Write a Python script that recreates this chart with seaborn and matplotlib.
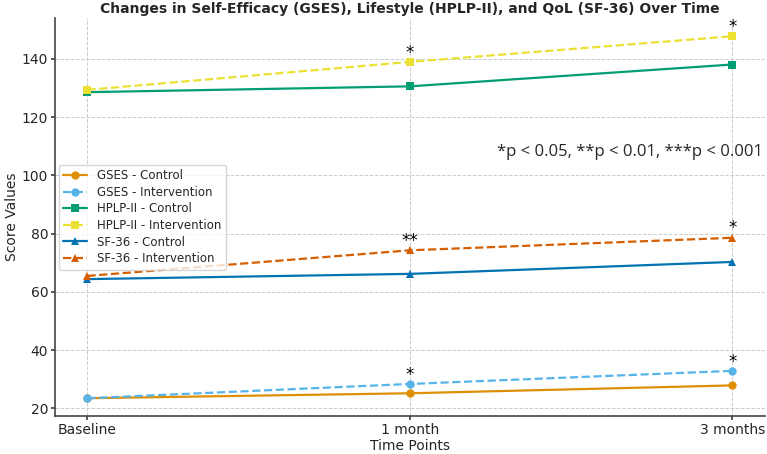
import matplotlib
matplotlib.use("Agg")
import matplotlib.pyplot as plt
import numpy as np
import pandas as pd
import seaborn as sns

# data
time_points = ["Baseline", "1 month", "3 months"]
gses_control = [23.5, 25.2, 27.9]
gses_intervention = [23.5, 28.4, 32.9]
hplp_control = [128.6, 130.6, 138.1]
hplp_intervention = [129.4, 139.0, 147.8]
sf36_control = [64.4, 66.2, 70.3]
sf36_intervention = [65.5, 74.3, 78.6]

sig_gses = ["", "*", "*"]
sig_hplp = ["", "*", "*"]
sig_sf36 = ["", "**", "*"]

sns.set_theme(style="whitegrid")
plt.rcParams['font.family'] = ['DejaVu Sans']

fig, ax = plt.subplots(figsize=(7.67, 4.54), dpi=100)

series = [
    ("GSES - Control", gses_control, "#DE8F05", "-", "o"),
    ("GSES - Intervention", gses_intervention, "#56B4E9", "--", "o"),
    ("HPLP-II - Control", hplp_control, "#029E73", "-", "s"),
    ("HPLP-II - Intervention", hplp_intervention, "#ECE133", "--", "s"),
    ("SF-36 - Control", sf36_control, "#0173B2", "-", "^"),
    ("SF-36 - Intervention", sf36_intervention, "#D55E00", "--", "^"),
]
x = np.arange(len(time_points))
for name, vals, col, ls, mk in series:
    sns.lineplot(x=x, y=vals, ax=ax, color=col, linestyle=ls, marker=mk,
                 markersize=6, markeredgewidth=0, linewidth=1.6, label=name)

# significance stars above intervention points
for vals, sig in [(gses_intervention, sig_gses), (hplp_intervention, sig_hplp),
                  (sf36_intervention, sig_sf36)]:
    for i, s in enumerate(sig):
        if s:
            ax.text(x[i], vals[i] + 3.2, s, ha="center", va="center", fontsize=12, color="black")

ax.text(0.997, 108, "*p < 0.05, **p < 0.01, ***p < 0.001", ha="right", va="center",
        fontsize=12, family=["Open Sans", "DejaVu Sans"], transform=ax.get_yaxis_transform())

ax.set_xticks(x)
ax.set_xticklabels(time_points)
ax.set_xlabel("Time Points", fontsize=10, labelpad=1)
ax.set_ylabel("Score Values", fontsize=10, labelpad=2)
ax.set_title("Changes in Self-Efficacy (GSES), Lifestyle (HPLP-II), and QoL (SF-36) Over Time",
             fontsize=10, fontweight="bold", pad=4)
ax.grid(True, linestyle="--", color="#cccccc", linewidth=0.7)
ax.set_facecolor("white")
sns.despine(ax=ax)
for sp in ["left", "bottom"]:
    ax.spines[sp].set_color("#444444")
    ax.spines[sp].set_linewidth(1.2)
ax.tick_params(axis="both", labelsize=10, left=True, bottom=True, length=3, color="#444444", pad=2)
ax.legend(loc="center left", fontsize=8.5, frameon=True, labelspacing=0.3,
          handlelength=2.0, borderpad=0.4, borderaxespad=0.3)

fig.subplots_adjust(left=0.072, right=0.997, bottom=0.083, top=0.96)
plt.savefig("out.png", dpi=100)
